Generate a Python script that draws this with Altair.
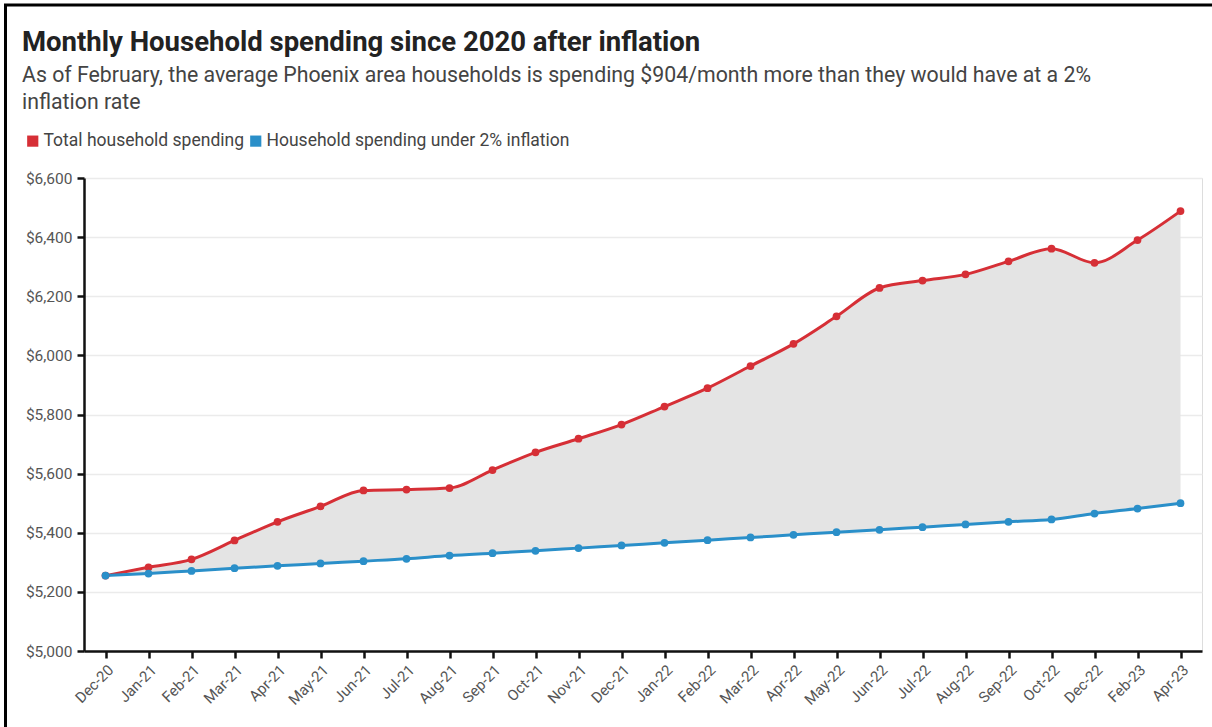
import altair as alt
import pandas as pd

months = ["Dec-20", "Jan-21", "Feb-21", "Mar-21", "Apr-21", "May-21", "Jun-21", "Jul-21",
          "Aug-21", "Sep-21", "Oct-21", "Nov-21", "Dec-21", "Jan-22", "Feb-22", "Mar-22",
          "Apr-22", "May-22", "Jun-22", "Jul-22", "Aug-22", "Sep-22", "Oct-22", "Dec-22",
          "Feb-23", "Apr-23"]
total = [5255, 5283, 5310, 5374, 5437, 5489, 5543, 5546, 5551, 5612, 5672, 5718, 5766,
         5827, 5889, 5964, 6039, 6132, 6228, 6253, 6274, 6318, 6361, 6313, 6390, 6488]
baseline = [5255, 5262, 5271, 5280, 5288, 5296, 5304, 5312, 5323, 5331, 5339, 5348, 5357,
            5366, 5375, 5384, 5393, 5402, 5410, 5419, 5428, 5437, 5445, 5465, 5482, 5500]
series_names = ["Total household spending", "Household spending under 2% inflation"]
series_colors = ["#d62f36", "#2a8fc9"]
y_ticks = [5000, 5200, 5400, 5600, 5800, 6000, 6200, 6400, 6600]

wide = pd.DataFrame({"month": months, "total": total, "baseline": baseline})
long = pd.concat([
    pd.DataFrame({"month": months, "value": total, "series": series_names[0]}),
    pd.DataFrame({"month": months, "value": baseline, "series": series_names[1]}),
])

FONT = "Roboto"

x_enc = alt.X("month:N", sort=months,
              scale=alt.Scale(type="point", padding=0.5),
              axis=alt.Axis(title=None, labelAngle=-45, labelFontSize=15,
                            labelColor="#555555", labelFont=FONT,
                            domainColor="#111111", domainWidth=2.5,
                            tickColor="#111111", tickWidth=2.5, tickSize=7,
                            labelPadding=4, grid=False))

y_scale = alt.Scale(domain=[5000, 6600], nice=False, zero=False)

area = alt.Chart(wide).mark_area(color="#e4e4e4", interpolate="monotone").encode(
    x=x_enc,
    y=alt.Y("total:Q", scale=y_scale,
            axis=alt.Axis(title=None, values=y_ticks, format="$,.0f",
                          labelFontSize=15.5, labelColor="#555555", labelFont=FONT,
                          domainColor="#111111", domainWidth=2.5,
                          tickColor="#111111", tickWidth=2.5, tickSize=7,
                          labelPadding=5, gridColor="#ebebeb", gridWidth=1.5)),
    y2="baseline:Q",
)

color_enc = alt.Color("series:N", scale=alt.Scale(domain=series_names, range=series_colors),
                      legend=alt.Legend(title=None, orient="none", direction="horizontal",
                                        legendX=-60, legendY=-46,
                                        symbolType="square", symbolSize=125,
                                        symbolStrokeWidth=0, symbolOpacity=1,
                                        labelFontSize=17.5, labelColor="#444444",
                                        labelFont=FONT, labelOffset=2, labelLimit=0,
                                        columnPadding=3))

lines = alt.Chart(long).mark_line(strokeWidth=3, interpolate="monotone").encode(
    x=alt.X("month:N", sort=months),
    y=alt.Y("value:Q", scale=y_scale),
    color=color_enc,
)

points = alt.Chart(long).mark_circle(size=60, opacity=1).encode(
    x=alt.X("month:N", sort=months),
    y=alt.Y("value:Q", scale=y_scale),
    color=alt.Color("series:N", scale=alt.Scale(domain=series_names, range=series_colors),
                    legend=None),
)

# screenshot frame (left and top black border)
frame_df = pd.DataFrame({"k": [0]})
frame_left = alt.Chart(frame_df).mark_rule(color="black", strokeWidth=3).encode(
    x=alt.value(-78.5), y=alt.value(-173), y2=alt.value(549))
frame_top = alt.Chart(frame_df).mark_rule(color="black", strokeWidth=3).encode(
    x=alt.value(-80), x2=alt.value(1128), y=alt.value(-173))

chart = alt.layer(area, lines, points, frame_left, frame_top).properties(
    width=1118,
    height=473,
    padding={"left": 84, "top": 178, "right": 10, "bottom": 76},
    autosize=alt.AutoSizeParams(type="none"),
    title=alt.TitleParams(
        text="Monthly Household spending since 2020 after inflation",
        subtitle=["As of February, the average Phoenix area households is spending $904/month more than they would have at a 2%",
                  "inflation rate"],
        anchor="start", frame="group", dx=-62, dy=132,
        font=FONT, fontSize=27.5, fontWeight="bold", color="#222222",
        subtitleFont=FONT, subtitleFontSize=21.3, subtitleColor="#444444",
        subtitleLineHeight=27, subtitlePadding=9, offset=22,
    ),
).configure_view(stroke=None).configure(background="white")

chart.save("out.html", embed_options={"renderer": "svg", "actions": False})
